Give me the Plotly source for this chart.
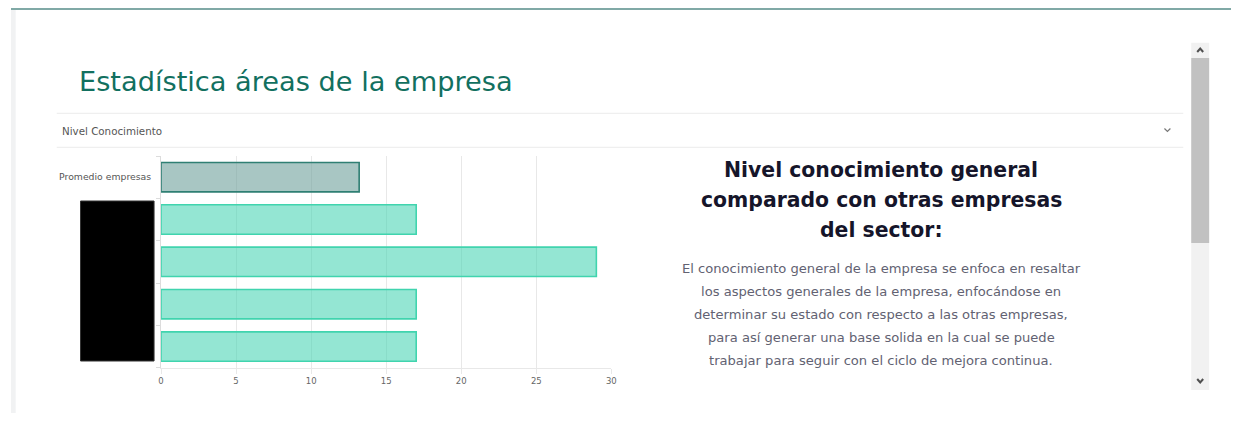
import plotly.graph_objects as go

# the page body adds an 8px margin on every side; the figure fits inside it
OFF = 8
W, H = 1244 - 2 * OFF, 421 - 2 * OFF

# ---------------- data ----------------
categories = ["Promedio empresas", "Área A", "Área B", "Área C", "Área D"]
tick_labels = ["Promedio empresas", "", "", "", ""]   # other labels are redacted in the reference
values = [13.2, 17, 29, 17, 17]
x_ticks = [0, 5, 10, 15, 20, 25, 30]

page_title = "Estadística áreas de la empresa"
section_label = "Nivel Conocimiento"
heading_lines = ["Nivel conocimiento general",
                 "comparado con otras empresas",
                 "del sector:"]
body_lines = ["El conocimiento general de la empresa se enfoca en resaltar",
              "los aspectos generales de la empresa, enfocándose en",
              "determinar su estado con respecto a las otras empresas,",
              "para así generar una base solida en la cual se puede",
              "trabajar para seguir con el ciclo de mejora continua."]


def X(px):
    return (px - OFF) / W


def Y(py):
    return 1 - (py - OFF) / H


fill_colors = ["rgba(110,160,155,0.6)"] + ["rgba(60,210,175,0.55)"] * (len(values) - 1)
line_colors = ["#2f7f73"] + ["#40d4ae"] * (len(values) - 1)

fig = go.Figure()
fig.add_trace(go.Bar(
    x=values, y=categories, orientation="h",
    marker=dict(color=fill_colors, line=dict(color=line_colors, width=1.6)),
    hoverinfo="x+y", showlegend=False,
))

fig.update_layout(
    width=W, height=H,
    margin=dict(l=0, r=0, t=0, b=0),
    paper_bgcolor="white", plot_bgcolor="white",
    bargap=0.306,
    font=dict(family="DejaVu Sans, sans-serif", color="#666"),
    xaxis=dict(
        domain=[X(159), X(612.3)], range=[0, 30],
        tickvals=x_ticks, ticktext=[str(t) for t in x_ticks],
        showgrid=True, gridcolor="#e8e8e8", gridwidth=1,
        ticks="outside", ticklen=5, tickcolor="#e8e8e8",
        showline=True, linecolor="#e8e8e8", linewidth=1,
        zeroline=False,
        tickfont=dict(family="DejaVu Sans", size=8.5, color="#666"),
        fixedrange=True,
    ),
    yaxis=dict(
        domain=[Y(367.7), Y(156)],
        categoryorder="array", categoryarray=categories,
        autorange="reversed",
        tickvals=categories, ticktext=tick_labels,
        tickson="boundaries",
        ticks="outside", ticklen=4, tickcolor="#dcdcdc",
        ticklabelstandoff=7,
        showline=True, linecolor="#dcdcdc", linewidth=1,
        showgrid=False,
        tickfont=dict(family="DejaVu Sans", size=9.3, color="#555"),
        fixedrange=True,
    ),
)

shapes = []
# top border line
shapes.append(dict(type="line", xref="paper", yref="paper", x0=0, x1=1, y0=Y(9), y1=Y(9),
                   line=dict(color="#80a9a6", width=2)))
# left light side bar
shapes.append(dict(type="rect", xref="paper", yref="paper", x0=X(8), x1=X(12.7), y0=0, y1=Y(10),
                   fillcolor="#f1f2f3", line=dict(width=0)))
# separators around collapsible header
for yy in (113.3, 147.3):
    shapes.append(dict(type="line", xref="paper", yref="paper", x0=X(54), x1=X(1188), y0=Y(yy), y1=Y(yy),
                       line=dict(color="#ececec", width=1)))
# chevron of collapsible header
shapes.append(dict(type="path", xref="paper", yref="paper",
                   path=f"M {X(1169)},{Y(128.5)} L {X(1172)},{Y(131.5)} L {X(1175)},{Y(128.5)}",
                   line=dict(color="#777", width=1.2)))
# redaction block over hidden category labels
shapes.append(dict(type="rect", xref="paper", yref="paper", x0=X(78), x1=X(152), y0=Y(361), y1=Y(201),
                   fillcolor="black", line=dict(color="#333", width=1), layer="above"))
# scrollbar
shapes.append(dict(type="rect", xref="paper", yref="paper", x0=X(1196), x1=X(1214), y0=Y(390), y1=Y(42.7),
                   fillcolor="#f1f1f1", line=dict(width=0)))
shapes.append(dict(type="rect", xref="paper", yref="paper", x0=X(1196), x1=X(1214), y0=Y(243), y1=Y(58),
                   fillcolor="#c1c1c1", line=dict(width=0)))
shapes.append(dict(type="path", xref="paper", yref="paper",
                   path=f"M {X(1202)},{Y(52)} L {X(1205)},{Y(48.5)} L {X(1208)},{Y(52)}",
                   line=dict(color="#505050", width=2)))
shapes.append(dict(type="path", xref="paper", yref="paper",
                   path=f"M {X(1202)},{Y(379)} L {X(1205)},{Y(382.5)} L {X(1208)},{Y(379)}",
                   line=dict(color="#505050", width=2)))
fig.update_layout(shapes=shapes)

ann = []
ann.append(dict(text=page_title, xref="paper", yref="paper", x=X(74), y=Y(82),
                xanchor="left", yanchor="middle", showarrow=False,
                font=dict(family="DejaVu Sans", size=27.2, color="#12705f")))
ann.append(dict(text=section_label, xref="paper", yref="paper", x=X(57.5), y=Y(130.5),
                xanchor="left", yanchor="middle", showarrow=False,
                font=dict(family="DejaVu Sans", size=10.3, color="#555")))
for i, line in enumerate(heading_lines):
    ann.append(dict(text=line, xref="paper", yref="paper", x=X(884), y=Y(169.8 + 30.1 * i),
                    xanchor="center", yanchor="middle", showarrow=False,
                    font=dict(family="DejaVu Sans", size=20.4, color="#15152a", weight="bold")))
for i, line in enumerate(body_lines):
    ann.append(dict(text=line, xref="paper", yref="paper", x=X(884), y=Y(268.7 + 22.9 * i),
                    xanchor="center", yanchor="middle", showarrow=False,
                    font=dict(family="DejaVu Sans", size=13.1, color="#626272")))
fig.update_layout(annotations=ann)

fig.write_html("out.html", config={"displayModeBar": False})
